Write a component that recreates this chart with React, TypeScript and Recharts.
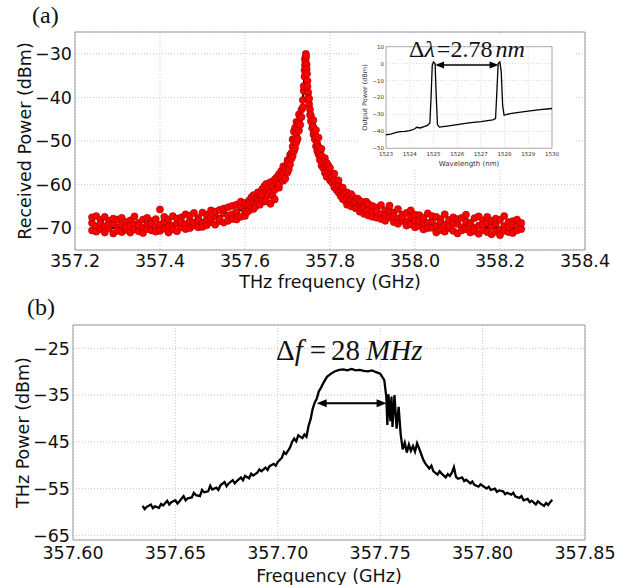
import React from 'react';
import {
  ComposedChart,
  LineChart,
  Line,
  Scatter,
  XAxis,
  YAxis,
  CartesianGrid,
  ReferenceArea,
  ReferenceLine,
} from 'recharts';

// ---------- tick labels ----------
const aFreqTicks = [357.2, 357.4, 357.6, 357.8, 358.0, 358.2, 358.4];
const aPowerTicks = [-70, -60, -50, -40, -30];
const bFreqTicks = [357.6, 357.65, 357.7, 357.75, 357.8, 357.85];
const bPowerTicks = [-65, -55, -45, -35, -25];
const insetWaveTicks = [1523, 1524, 1525, 1526, 1527, 1528, 1529, 1530];
const insetPowerTicks = [-50, -40, -30, -20, -10, 0, 10];

// ---------- panel (a): measured points [freq, p1, p2, p3] ----------
const measuredRows: number[][] = [
  [357.24, -68.8, -70.5, -67.5], [357.25, -69.6, -67.2, -70.8], [357.26, -68.1, -70.2, -69.0],
  [357.27, -67.4, -69.5, -71.0], [357.28, -70.0, -68.3, -69.2], [357.29, -68.9, -71.2, -67.8],
  [357.30, -69.8, -68.0, -70.6], [357.31, -67.6, -69.3, -70.9], [357.32, -70.4, -68.6, -69.7],
  [357.33, -68.2, -71.0, -69.5], [357.34, -69.1, -67.3, -70.3], [357.35, -70.7, -68.8, -69.4],
  [357.36, -68.0, -69.9, -71.1], [357.37, -69.3, -67.6, -70.2], [357.38, -70.5, -68.4, -69.0],
  [357.39, -67.9, -69.7, -70.8], [357.40, -65.7, -69.2, -70.6], [357.41, -68.5, -70.1, -67.4],
  [357.42, -69.6, -68.0, -71.0], [357.43, -67.2, -69.4, -70.3], [357.44, -68.9, -70.7, -67.8],
  [357.45, -69.8, -67.5, -68.6], [357.46, -66.8, -69.1, -70.2], [357.47, -68.3, -70.0, -67.1],
  [357.48, -69.4, -66.5, -68.7], [357.49, -67.6, -69.8, -68.2], [357.50, -66.4, -68.9, -69.7],
  [357.51, -68.0, -66.9, -69.3], [357.52, -65.9, -68.6, -67.7], [357.53, -67.3, -69.2, -66.2],
  [357.54, -68.4, -65.8, -67.9], [357.55, -66.6, -68.7, -65.5], [357.56, -67.1, -65.2, -68.3],
  [357.57, -64.9, -66.8, -67.9], [357.58, -66.3, -64.6, -68.0], [357.59, -65.0, -67.4, -63.9],
  [357.60, -66.1, -64.2, -67.2], [357.605, -64.8, -66.3], [357.61, -63.6, -65.9, -64.7],
  [357.615, -65.2, -62.9], [357.62, -64.0, -62.4, -65.6], [357.625, -63.2, -65.0],
  [357.63, -61.8, -64.1, -63.0], [357.635, -62.6, -64.6], [357.64, -61.1, -63.3, -62.2],
  [357.645, -60.4, -63.9], [357.65, -61.6, -59.8, -63.8], [357.655, -62.3, -60.6],
  [357.66, -59.4, -61.7, -64.4], [357.665, -60.5, -62.6], [357.67, -58.8, -61.2, -63.4],
  [357.675, -59.6, -58.3], [357.68, -60.7, -57.6, -59.9], [357.685, -58.2, -56.9],
  [357.69, -57.4, -59.1, -55.8], [357.695, -56.3, -58.6], [357.70, -55.1, -57.2, -54.4],
  [357.703, -54.6, -56.5], [357.706, -53.2, -55.4], [357.709, -52.8, -54.1],
  [357.712, -51.3, -53.5, -49.6], [357.715, -50.2, -52.4, -47.8], [357.718, -49.5, -51.6, -46.9],
  [357.721, -48.4, -50.3, -45.6], [357.724, -47.2, -49.5], [357.727, -45.8, -47.6, -43.9],
  [357.73, -44.6, -46.3], [357.733, -42.8, -44.5], [357.736, -40.6, -42.3],
  [357.738, -38.5, -37.4], [357.74, -35.2, -33.8], [357.741, -32.6, -31.4],
  [357.742, -30.8], [357.743, -30.0, -31.2], [357.744, -30.5], [357.745, -32.4, -33.5],
  [357.746, -34.6], [357.747, -36.2, -37.5], [357.749, -38.9, -40.1], [357.751, -41.6, -40.3],
  [357.753, -42.8, -44.0], [357.755, -44.1, -45.4], [357.758, -45.9, -47.1],
  [357.761, -46.8, -48.5, -45.2], [357.764, -47.9, -49.6], [357.767, -49.0, -51.2, -47.5],
  [357.77, -50.6, -52.3], [357.773, -51.4, -49.2, -53.1], [357.776, -52.6, -54.3],
  [357.78, -53.4, -55.6, -51.8], [357.784, -54.8, -56.2], [357.788, -55.5, -57.3, -53.9],
  [357.792, -56.1, -55.0, -58.2], [357.796, -55.6, -57.0], [357.80, -57.7, -56.2, -59.0],
  [357.805, -58.3, -59.6], [357.81, -58.9, -60.6, -57.5], [357.815, -59.8, -61.2],
  [357.82, -60.1, -61.8, -59.0], [357.825, -61.3, -62.6], [357.83, -60.7, -62.4, -63.3],
  [357.835, -62.0, -63.6], [357.84, -61.8, -63.4, -64.6], [357.845, -62.5, -64.1],
  [357.85, -63.6, -62.2, -65.0], [357.855, -64.3, -62.9], [357.86, -63.5, -65.4, -64.0],
  [357.865, -65.1, -63.2], [357.87, -64.5, -66.2, -63.7], [357.875, -65.6, -64.0],
  [357.88, -64.8, -66.7, -65.3], [357.885, -63.9, -66.0], [357.89, -65.7, -64.4, -67.1],
  [357.90, -66.2, -64.9, -67.4], [357.91, -65.3, -67.6, -66.1], [357.92, -66.8, -64.7, -67.9],
  [357.93, -65.9, -67.2, -68.3], [357.94, -67.5, -66.0, -64.8], [357.95, -66.4, -68.6, -67.3],
  [357.96, -67.8, -65.6, -69.0], [357.97, -66.9, -68.3, -67.5], [357.98, -68.5, -66.5, -69.4],
  [357.99, -67.3, -69.1, -65.9], [358.00, -68.2, -66.9, -69.8], [358.01, -67.0, -69.5, -68.4],
  [358.02, -69.0, -67.6, -70.3], [358.03, -66.6, -68.8, -70.0], [358.04, -68.4, -69.9, -67.2],
  [358.05, -69.5, -67.4, -71.0], [358.06, -67.9, -70.4, -68.7], [358.07, -69.2, -66.8, -70.8],
  [358.08, -68.1, -70.0, -69.4], [358.09, -70.6, -67.5, -68.9], [358.10, -69.0, -71.2, -67.9],
  [358.11, -67.6, -69.8, -70.5], [358.12, -70.2, -68.5, -66.9], [358.13, -68.8, -71.0, -69.6],
  [358.14, -69.9, -67.7, -70.7], [358.15, -67.3, -69.4, -71.3], [358.16, -70.4, -68.2, -69.1],
  [358.17, -68.7, -70.9, -67.4], [358.18, -69.6, -71.4, -68.3], [358.19, -70.8, -68.9, -67.8],
  [358.20, -68.1, -70.3, -71.6], [358.21, -69.5, -67.2, -70.6], [358.22, -70.9, -68.6, -69.8],
  [358.23, -68.4, -71.1, -69.2], [358.24, -69.7, -70.5, -68.0], [358.25, -70.2, -68.8],
];

// ---------- panel (a): Lorentzian fit [freq, power] ----------
const fitCurve: [number, number][] = [
  [357.24, -70.1], [357.30, -69.9], [357.35, -69.7], [357.40, -69.4], [357.45, -68.9],
  [357.50, -68.2], [357.55, -67.0], [357.60, -65.4], [357.62, -64.4], [357.64, -63.1],
  [357.66, -61.5], [357.68, -59.3], [357.70, -56.1], [357.71, -53.9], [357.72, -50.8],
  [357.725, -48.7], [357.73, -45.9], [357.735, -41.9], [357.738, -38.2], [357.741, -32.8],
  [357.743, -30.0], [357.745, -32.8], [357.748, -38.2], [357.751, -41.9], [357.756, -45.9],
  [357.761, -48.7], [357.766, -50.8], [357.776, -53.9], [357.786, -56.1], [357.806, -59.3],
  [357.826, -61.5], [357.846, -63.1], [357.866, -64.4], [357.886, -65.4], [357.936, -67.0],
  [357.986, -68.2], [358.036, -68.9], [358.086, -69.4], [358.136, -69.7], [358.186, -69.9],
  [358.25, -70.1],
];

// ---------- inset: optical spectrum [wavelength nm, dBm] ----------
const opticalSpectrum: [number, number][] = [
  [1523.0, -42], [1523.2, -41.6], [1523.4, -40.8], [1523.6, -40.2], [1523.8, -40.0],
  [1524.0, -39.6], [1524.2, -38.6], [1524.3, -37.6], [1524.45, -38.0], [1524.6, -37.2],
  [1524.75, -36.5], [1524.85, -35], [1524.9, -20], [1524.95, -1], [1525.0, 1],
  [1525.07, 0], [1525.12, -20], [1525.17, -36], [1525.25, -37.5], [1525.5, -37],
  [1526.0, -36], [1526.5, -35], [1527.0, -34.2], [1527.5, -33.2], [1527.62, -32.5],
  [1527.68, -15], [1527.73, 0], [1527.8, 1], [1527.86, -5], [1527.92, -25],
  [1527.98, -30.5], [1528.1, -30], [1528.3, -29.4], [1528.6, -28.8], [1529.0, -28],
  [1529.5, -27.2], [1530.0, -26.5],
];

// ---------- panel (b): THz spectrum [freq GHz, dBm] ----------
const thzSpectrum: [number, number][] = [
  [357.634, -58.7], [357.635, -59.4], [357.636, -58.9], [357.638, -58.4], [357.639, -59.2],
  [357.640, -58.8], [357.642, -59.1], [357.643, -58.3], [357.644, -58.6], [357.646, -57.6],
  [357.647, -58.4], [357.648, -57.9], [357.650, -57.5], [357.651, -58.2], [357.652, -57.7],
  [357.654, -56.6], [357.655, -57.5], [357.656, -57.1], [357.658, -56.9], [357.659, -55.9],
  [357.660, -56.4], [357.662, -56.6], [357.663, -55.3], [357.664, -55.8], [357.666, -55.6],
  [357.667, -54.4], [357.668, -55.2], [357.670, -54.8], [357.671, -55.3], [357.672, -54.3],
  [357.674, -53.6], [357.675, -54.5], [357.676, -53.9], [357.678, -53.2], [357.679, -53.9],
  [357.680, -53.4], [357.682, -52.6], [357.683, -53.2], [357.684, -52.3], [357.686, -52.8],
  [357.687, -51.8], [357.688, -52.2], [357.690, -51.6], [357.691, -50.9], [357.692, -51.3],
  [357.694, -50.5], [357.695, -51.0], [357.696, -50.2], [357.698, -49.7], [357.699, -50.1],
  [357.700, -49.3], [357.702, -48.4], [357.703, -47.2], [357.704, -47.6], [357.706, -46.2],
  [357.707, -45.0], [357.708, -44.3], [357.709, -44.9], [357.710, -43.6], [357.712, -44.2],
  [357.713, -43.4], [357.714, -43.9], [357.715, -41.6], [357.716, -40.2], [357.717, -38.0],
  [357.718, -36.6], [357.719, -35.8], [357.720, -34.2], [357.721, -33.5], [357.722, -32.6],
  [357.724, -31.1], [357.726, -30.4], [357.728, -29.9], [357.730, -29.6], [357.732, -29.5],
  [357.734, -29.7], [357.736, -29.4], [357.738, -29.7], [357.740, -29.6], [357.742, -29.8],
  [357.744, -29.9], [357.746, -29.7], [357.748, -30.1], [357.750, -30.4], [357.752, -31.8],
  [357.753, -35.5], [357.7535, -41.4], [357.754, -34.8], [357.755, -40.6], [357.7555, -35.3],
  [357.756, -41.8], [357.757, -35.0], [357.758, -42.2], [357.759, -37.5], [357.760, -43.4],
  [357.761, -46.6], [357.762, -45.2], [357.763, -47.3], [357.764, -45.6], [357.765, -46.9],
  [357.766, -45.9], [357.767, -47.1], [357.768, -45.3], [357.769, -46.4], [357.770, -47.6],
  [357.771, -48.8], [357.772, -49.6], [357.774, -50.7], [357.775, -50.1], [357.776, -51.3],
  [357.778, -52.0], [357.779, -51.3], [357.780, -51.8], [357.782, -52.6], [357.783, -51.9],
  [357.784, -52.3], [357.785, -51.6], [357.786, -50.4], [357.787, -52.5], [357.788, -52.9],
  [357.790, -52.6], [357.791, -53.4], [357.792, -53.1], [357.794, -53.9], [357.795, -53.5],
  [357.796, -54.2], [357.798, -54.6], [357.799, -54.1], [357.800, -54.4], [357.802, -55.0],
  [357.803, -54.6], [357.804, -55.3], [357.806, -55.0], [357.807, -55.7], [357.808, -55.4],
  [357.810, -55.6], [357.811, -56.2], [357.812, -55.9], [357.814, -56.3], [357.815, -55.9],
  [357.816, -56.7], [357.818, -57.0], [357.819, -56.6], [357.820, -57.5], [357.822, -57.2],
  [357.823, -57.9], [357.824, -57.6], [357.826, -58.4], [357.827, -57.7], [357.828, -58.1],
  [357.830, -58.7], [357.831, -58.1], [357.832, -58.5], [357.833, -57.9], [357.834, -57.4],
];

// ---------- annotation arrows (data coords) ----------
const insetArrow = { from: 1525.07, to: 1527.75, level: -0.8 };
const bArrow = { from: 357.719, to: 357.7531, level: -36.75 };

// ---------- derived tables ----------
const measuredPoints = measuredRows.flatMap(([f, ...ps]) => ps.map((v) => ({ f, v })));
const fitPoints = fitCurve.map(([f, v]) => ({ f, v }));
const insetPoints = opticalSpectrum.map(([w, p]) => ({ w, p }));
const thzPoints = thzSpectrum.map(([f, v]) => ({ f, v }));

const minus = (v: number) => (v < 0 ? '\u2212' + Math.abs(v) : String(v));
const TXT = '#111';
const GRID = '#c4c4c4';
const FRAME = '#9a9a9a';
const FS = 17.5;

const RedDot = (props: any) => {
  if (props.cx == null) return null;
  return <circle cx={props.cx} cy={props.cy} r={3.6} fill="#ff0000" stroke="#6a0000" strokeWidth={0.4} />;
};

const makeArrow = (len: number, half: number, sw: number) => (props: any) => {
  const { x1, y1, x2, y2 } = props;
  if (x1 == null || x2 == null) return null;
  return (
    <g>
      <line x1={x1 + len * 0.8} y1={y1} x2={x2 - len * 0.8} y2={y2} stroke="#000" strokeWidth={sw} />
      <polygon points={`${x1},${y1} ${x1 + len},${y1 - half} ${x1 + len},${y1 + half}`} fill="#000" />
      <polygon points={`${x2},${y2} ${x2 - len},${y2 - half} ${x2 - len},${y2 + half}`} fill="#000" />
    </g>
  );
};

const InsetArrow = makeArrow(9, 3.5, 1.6);
const BigArrow = makeArrow(10, 4, 2);

export default function App() {
  return (
    <div
      style={{
        position: 'absolute',
        left: 0,
        top: 0,
        width: 631,
        height: 585,
        background: '#fff',
        fontFamily: '"DejaVu Sans", sans-serif',
        overflow: 'hidden',
      }}
    >
      {/* Panel (a) */}
      <div style={{ position: 'absolute', left: 0, top: 0 }}>
        <ComposedChart width={631} height={300} margin={{ top: 32, right: 46, bottom: 0, left: 0 }}>
          <CartesianGrid stroke={GRID} strokeDasharray="1 2" />
          <XAxis
            type="number"
            dataKey="f"
            domain={[357.2, 358.4]}
            ticks={aFreqTicks}
            interval={0}
            allowDataOverflow
            tickFormatter={(v: number) => v.toFixed(1)}
            axisLine={false}
            tickLine={false}
            tickSize={0}
            tickMargin={5}
            height={50}
            tick={{ fill: TXT, fontSize: FS }}
            label={{ value: 'THz frequency (GHz)', position: 'insideBottom', offset: 12, fill: TXT, fontSize: FS }}
          />
          <YAxis
            type="number"
            dataKey="v"
            domain={[-75, -25]}
            ticks={aPowerTicks}
            interval={0}
            allowDataOverflow
            tickFormatter={minus}
            axisLine={false}
            tickLine={false}
            tickSize={0}
            tickMargin={3}
            width={75}
            tick={{ fill: TXT, fontSize: FS }}
            label={{
              value: 'Received Power (dBm)',
              angle: -90,
              position: 'insideLeft',
              offset: 25,
              fill: TXT,
              fontSize: FS,
              style: { textAnchor: 'middle' },
            }}
          />
          <ReferenceArea x1={357.2} x2={358.4} y1={-75} y2={-25} fill="none" stroke={FRAME} strokeWidth={1} ifOverflow="visible" />
          <Scatter data={measuredPoints} dataKey="v" shape={RedDot} isAnimationActive={false} />
          <Line data={fitPoints} dataKey="v" type="monotone" stroke="#000" strokeWidth={2.2} dot={false} isAnimationActive={false} />
        </ComposedChart>
      </div>

      {/* Inset */}
      <div style={{ position: 'absolute', left: 360, top: 34, width: 214, height: 134, background: '#fff' }}>
        <LineChart width={214} height={134} data={insetPoints} margin={{ top: 12.7, right: 22, bottom: 0, left: 0 }}>
          <CartesianGrid stroke="#d6d6d6" strokeDasharray="1 2" />
          <XAxis
            type="number"
            dataKey="w"
            domain={[1523, 1530]}
            ticks={insetWaveTicks}
            interval={0}
            axisLine={false}
            tickLine={false}
            tickSize={0}
            tickMargin={3.5}
            height={19.7}
            tick={{ fill: '#333', fontSize: 5.5 }}
            label={{ value: 'Wavelength (nm)', position: 'insideBottom', offset: 2.5, fill: '#333', fontSize: 7 }}
          />
          <YAxis
            type="number"
            dataKey="p"
            domain={[-50, 10]}
            ticks={insetPowerTicks}
            interval={0}
            tickFormatter={minus}
            axisLine={false}
            tickLine={false}
            tickSize={0}
            tickMargin={2}
            width={26}
            tick={{ fill: '#333', fontSize: 5.5 }}
            label={{
              value: 'Output Power (dBm)',
              angle: -90,
              position: 'insideLeft',
              offset: 5,
              fill: '#333',
              fontSize: 6.5,
              style: { textAnchor: 'middle' },
            }}
          />
          <ReferenceArea x1={1523} x2={1530} y1={-50} y2={10} fill="none" stroke={FRAME} strokeWidth={0.8} ifOverflow="visible" />
          <Line dataKey="p" type="linear" stroke="#000" strokeWidth={1.3} dot={false} isAnimationActive={false} />
          <ReferenceLine
            segment={[
              { x: insetArrow.from, y: insetArrow.level },
              { x: insetArrow.to, y: insetArrow.level },
            ]}
            shape={InsetArrow}
            ifOverflow="visible"
          />
        </LineChart>
      </div>

      {/* Panel (b) */}
      <div style={{ position: 'absolute', left: 0, top: 300 }}>
        <ComposedChart width={631} height={285} margin={{ top: 25, right: 46, bottom: 0, left: 0 }}>
          <CartesianGrid stroke={GRID} strokeDasharray="1 2" />
          <XAxis
            type="number"
            dataKey="f"
            domain={[357.6, 357.85]}
            ticks={bFreqTicks}
            interval={0}
            allowDataOverflow
            tickFormatter={(v: number) => v.toFixed(2)}
            axisLine={false}
            tickLine={false}
            tickSize={0}
            tickMargin={7}
            height={45}
            tick={{ fill: TXT, fontSize: FS }}
            label={{ value: 'Frequency (GHz)', position: 'insideBottom', offset: 3, fill: TXT, fontSize: FS }}
          />
          <YAxis
            type="number"
            dataKey="v"
            domain={[-66, -20]}
            ticks={bPowerTicks}
            interval={0}
            allowDataOverflow
            tickFormatter={minus}
            axisLine={false}
            tickLine={false}
            tickSize={0}
            tickMargin={3}
            width={73}
            tick={{ fill: TXT, fontSize: FS }}
            label={{
              value: 'THz Power (dBm)',
              angle: -90,
              position: 'insideLeft',
              offset: 23,
              fill: TXT,
              fontSize: FS,
              style: { textAnchor: 'middle' },
            }}
          />
          <ReferenceArea x1={357.6} x2={357.85} y1={-66} y2={-20} fill="none" stroke={FRAME} strokeWidth={1} ifOverflow="visible" />
          <Line data={thzPoints} dataKey="v" type="linear" stroke="#000" strokeWidth={2.3} dot={false} isAnimationActive={false} />
          <ReferenceLine
            segment={[
              { x: bArrow.from, y: bArrow.level },
              { x: bArrow.to, y: bArrow.level },
            ]}
            shape={BigArrow}
            ifOverflow="visible"
          />
        </ComposedChart>
      </div>

      {/* Text annotations */}
      <svg width={631} height={585} style={{ position: 'absolute', left: 0, top: 0, pointerEvents: 'none' }}>
        <text x={32} y={23} fontFamily='"Liberation Serif", serif' fontSize={24} fill="#111">(a)</text>
        <text x={27} y={315} fontFamily='"Liberation Serif", serif' fontSize={24} fill="#111">(b)</text>
        <text x={409} y={57} fontFamily='"Liberation Serif", serif' fontSize={24} fill="#111">
          Δ<tspan fontStyle="italic">λ</tspan><tspan dx={2}>=2.78</tspan><tspan dx={3} fontStyle="italic">nm</tspan>
        </text>
        <text x={276} y={360} fontFamily='"Liberation Serif", serif' fontSize={29} fill="#111">
          Δ<tspan fontStyle="italic">f</tspan><tspan dx={7}>=</tspan><tspan dx={5}>28</tspan><tspan dx={6} fontStyle="italic">MHz</tspan>
        </text>
      </svg>
    </div>
  );
}
